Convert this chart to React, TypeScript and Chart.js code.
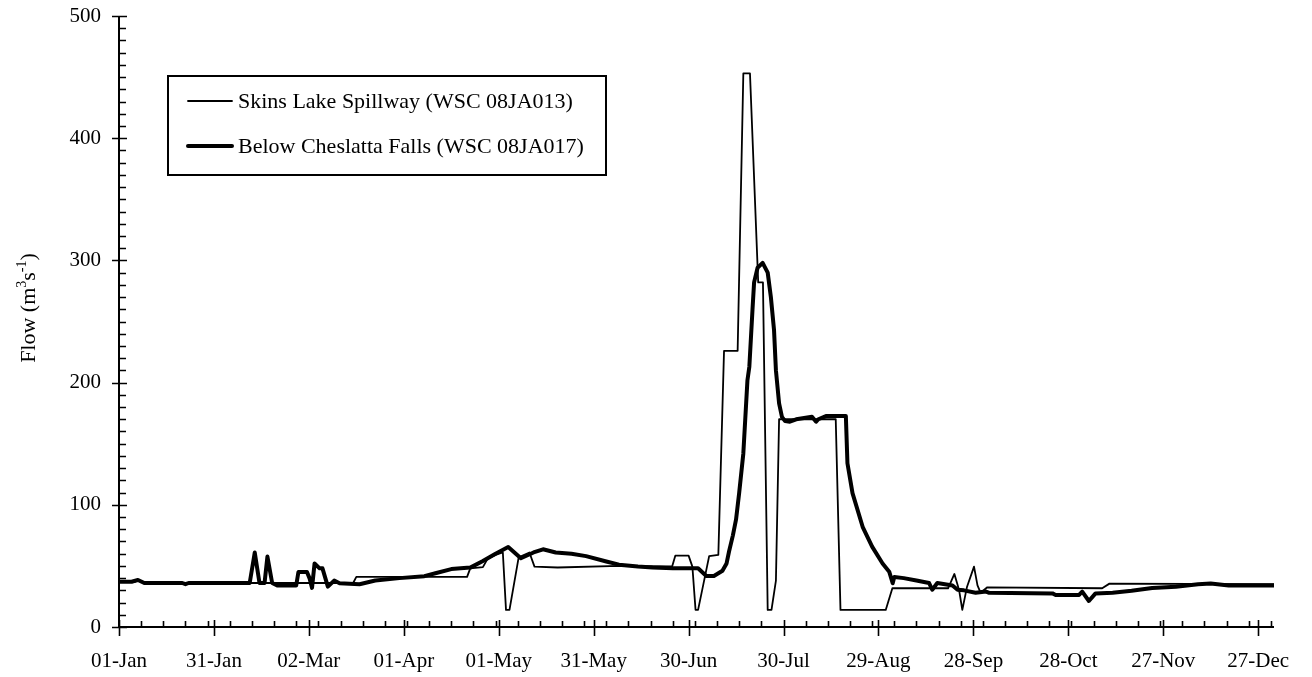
import React, { useEffect, useRef } from "react";
import { Chart, registerables } from "chart.js";

Chart.register(...registerables);

// ---- Data ----
const xTickDays = [0, 30, 60, 90, 120, 150, 180, 210, 240, 270, 300, 330, 360];
const xTickLabels = [
  "01-Jan", "31-Jan", "02-Mar", "01-Apr", "01-May", "31-May", "30-Jun",
  "30-Jul", "29-Aug", "28-Sep", "28-Oct", "27-Nov", "27-Dec",
];
const yTickValues = [0, 100, 200, 300, 400, 500];

const seriesNames = [
  "Skins Lake Spillway (WSC 08JA013)",
  "Below Cheslatta Falls (WSC 08JA017)",
];

// Skins Lake Spillway (thin line): day of year, flow (m3/s)
const skinsDays = [
  0, 5, 6, 8, 74, 75, 110, 111, 115, 116.5, 119, 121.3, 122.3, 123.4, 126.3,
  129.7, 131.3, 138.6, 158, 174.8, 175.8, 180, 181.2, 182.2, 183, 186.5, 189.4,
  191.2, 195.5, 197.3, 199.4, 202, 203.5, 205, 206.2, 207.6, 208.6, 226.5, 228,
  242.3, 244.4, 262, 264, 265.5, 266.5, 268, 270.2, 271.3, 272.3, 274.4, 310.7,
  313, 365,
];
const skinsFlow = [
  37, 37, 38, 36, 36, 41, 41, 48, 49, 56, 59, 61, 14, 14, 57,
  61, 49.4, 48.7, 50, 49.5, 58.4, 58.4, 49.4, 14, 14, 58, 59,
  226, 226, 453, 453, 282, 282, 14, 14, 38, 170, 170, 14,
  14, 31.7, 31.7, 43.4, 30, 14, 33, 49.4, 34, 28, 32.5, 31.7,
  35.5, 35,
];

// Below Cheslatta Falls (thick line): day of year, flow (m3/s)
const cheslattaDays = [
  0, 4, 6, 8, 20, 21, 22, 41.3, 42.9, 44.4, 46, 46.9, 48.4, 50, 56, 56.7,
  59.4, 60.2, 61, 61.8, 63.4, 64.3, 66, 68, 69.7, 76, 81, 88.6, 96.5, 100,
  105, 111, 115, 119, 123, 127, 131, 134, 138, 143, 147.6, 154, 158, 164,
  168.6, 175, 183, 185.6, 188, 190.7, 192, 192.8, 194, 195, 196, 197.3, 198.6,
  199.2, 200.2, 200.7, 201.8, 203.4, 205, 206, 207, 207.6, 208.6, 209.5, 210.5,
  212, 214, 219, 220.3, 221, 223.4, 229.7, 230.2, 231.8, 235, 238, 241.3,
  243.4, 244.5, 245, 248, 252, 256, 257, 258.6, 263.4, 265, 267, 270.7, 274,
  275, 295, 296, 303.4, 304.4, 306.5, 308.6, 314, 320, 326.5, 334, 341, 345,
  350.7, 365,
];
const cheslattaFlow = [
  37, 37, 38.5, 36, 36, 35, 36, 36, 61, 36, 36, 57.6, 36, 34, 34, 45,
  45, 40, 32, 52, 48, 48, 33, 38, 35.8, 35, 38, 40, 41.6, 44,
  47.4, 48.6, 54, 60, 65.5, 56.3, 61, 63.6, 61, 60, 58, 53.6, 51, 49.5,
  48.7, 48, 48, 41.8, 41.8, 46, 52, 62, 75, 88, 110, 142, 202,
  213, 260, 282, 294, 298, 290, 270, 243, 210, 183, 172, 168.5,
  168, 170, 172, 168, 170, 172.6, 172.6, 134, 109.5, 82, 65.8, 52,
  45.3, 35.8, 41, 40, 38, 36, 30.5, 36, 34, 30.5, 30, 28, 29,
  28, 27.5, 26.2, 26.2, 28.9, 21.3, 27.5, 28, 29.6, 32, 33, 35, 35.6,
  34, 34,
];

const yTitleMain = ["Flow (m", "s", ")"];
const yTitleSup = ["3", "-1"];

const FONT = "'Liberation Serif', 'Times New Roman', serif";
const X_MAX = 365;
const Y_MAX = 500;

const axesPlugin = {
  id: "customAxes",
  afterDraw(chart: any) {
    const ctx = chart.ctx;
    const xs = chart.scales.x;
    const ys = chart.scales.y;
    const { left, right, top, bottom } = chart.chartArea;
    ctx.save();
    ctx.strokeStyle = "#000";
    ctx.lineWidth = 2;
    ctx.lineCap = "butt";
    ctx.beginPath();
    ctx.moveTo(left, top);
    ctx.lineTo(left, bottom);
    ctx.lineTo(right, bottom);
    ctx.stroke();

    ctx.lineWidth = 1.6;
    ctx.beginPath();
    // x minor ticks (weekly)
    for (let d = 0; d <= X_MAX; d += 7) {
      const px = Math.round(xs.getPixelForValue(d)) + 0.5;
      ctx.moveTo(px, bottom);
      ctx.lineTo(px, bottom - 6);
    }
    // x major ticks
    xTickDays.forEach((d) => {
      const px = Math.round(xs.getPixelForValue(d)) + 0.5;
      ctx.moveTo(px, bottom + 9);
      ctx.lineTo(px, bottom - 7);
    });
    // y minor ticks
    for (let v = 0; v <= Y_MAX; v += 10) {
      const py = Math.round(ys.getPixelForValue(v)) + 0.5;
      ctx.moveTo(left, py);
      ctx.lineTo(left + 7, py);
    }
    // y major ticks
    yTickValues.forEach((v) => {
      const py = Math.round(ys.getPixelForValue(v)) + 0.5;
      ctx.moveTo(left - 7, py);
      ctx.lineTo(left + 8, py);
    });
    ctx.stroke();

    // y axis title, rotated, with superscripts
    const mainFont = `22px ${FONT}`;
    const supFont = `14px ${FONT}`;
    const parts: { t: string; sup: boolean }[] = [
      { t: yTitleMain[0], sup: false },
      { t: yTitleSup[0], sup: true },
      { t: yTitleMain[1], sup: false },
      { t: yTitleSup[1], sup: true },
      { t: yTitleMain[2], sup: false },
    ];
    let total = 0;
    parts.forEach((p) => {
      ctx.font = p.sup ? supFont : mainFont;
      total += ctx.measureText(p.t).width;
    });
    ctx.translate(35, 308);
    ctx.rotate(-Math.PI / 2);
    ctx.fillStyle = "#000";
    ctx.textBaseline = "alphabetic";
    ctx.textAlign = "left";
    let cx = -total / 2;
    parts.forEach((p) => {
      ctx.font = p.sup ? supFont : mainFont;
      ctx.fillText(p.t, cx, p.sup ? -9 : 0);
      cx += ctx.measureText(p.t).width;
    });
    ctx.restore();

    // legend
    ctx.save();
    ctx.strokeStyle = "#000";
    ctx.lineWidth = 2;
    ctx.strokeRect(168, 76, 438, 99);
    const widths = [1.8, 4];
    const rowsY = [101, 146];
    ctx.font = `22px ${FONT}`;
    ctx.fillStyle = "#000";
    ctx.textBaseline = "middle";
    ctx.textAlign = "left";
    seriesNames.forEach((name, i) => {
      ctx.lineWidth = widths[i];
      ctx.lineCap = "round";
      ctx.beginPath();
      ctx.moveTo(188, rowsY[i]);
      ctx.lineTo(232, rowsY[i]);
      ctx.stroke();
      ctx.fillText(name, 238, rowsY[i] + 1);
    });
    ctx.restore();
  },
};

export default function App() {
  const ref = useRef<HTMLCanvasElement | null>(null);

  useEffect(() => {
    if (!ref.current) return;
    const skins = skinsDays.map((d, i) => ({ x: d, y: skinsFlow[i] }));
    const ches = cheslattaDays.map((d, i) => ({ x: d, y: cheslattaFlow[i] }));
    const chart = new Chart(ref.current, {
      type: "line",
      data: {
        datasets: [
          {
            label: seriesNames[0],
            data: skins,
            borderColor: "#000",
            borderWidth: 1.8,
            pointRadius: 0,
            tension: 0,
            order: 2,
            borderJoinStyle: "round",
          },
          {
            label: seriesNames[1],
            data: ches,
            borderColor: "#000",
            borderWidth: 4,
            pointRadius: 0,
            tension: 0,
            order: 1,
            borderJoinStyle: "round",
          },
        ],
      },
      options: {
        animation: false,
        responsive: false,
        devicePixelRatio: 1,
        layout: { padding: { left: 0, top: 16, right: 38, bottom: 0 } },
        plugins: {
          legend: { display: false },
          tooltip: { enabled: false },
        },
        scales: {
          x: {
            type: "linear",
            min: 0,
            max: X_MAX,
            grid: { display: false, drawTicks: false },
            border: { display: false },
            afterBuildTicks: (scale: any) => {
              scale.ticks = xTickDays.map((v) => ({ value: v }));
            },
            afterFit: (scale: any) => {
              scale.height = 50;
              scale.paddingLeft = 0;
              scale.paddingRight = 0;
            },
            ticks: {
              autoSkip: false,
              maxRotation: 0,
              minRotation: 0,
              padding: 22,
              color: "#000",
              font: { family: FONT, size: 21 },
              callback: (v: any) => {
                const i = xTickDays.indexOf(Number(v));
                return i >= 0 ? xTickLabels[i] : "";
              },
            },
          },
          y: {
            type: "linear",
            min: 0,
            max: Y_MAX,
            grid: { display: false, drawTicks: false },
            border: { display: false },
            afterBuildTicks: (scale: any) => {
              scale.ticks = yTickValues.map((v) => ({ value: v }));
            },
            afterFit: (scale: any) => {
              scale.width = 119;
              scale.paddingTop = 0;
              scale.paddingBottom = 0;
            },
            ticks: {
              padding: 18,
              color: "#000",
              font: { family: FONT, size: 21 },
              callback: (v: any) => String(v),
            },
          },
        },
      },
      plugins: [axesPlugin],
    });
    return () => chart.destroy();
  }, []);

  return (
    <div style={{ position: "absolute", left: 0, top: 0, width: 1312, height: 677, background: "#fff" }}>
      <canvas ref={ref} width={1312} height={677} style={{ width: 1312, height: 677, display: "block" }} />
    </div>
  );
}
